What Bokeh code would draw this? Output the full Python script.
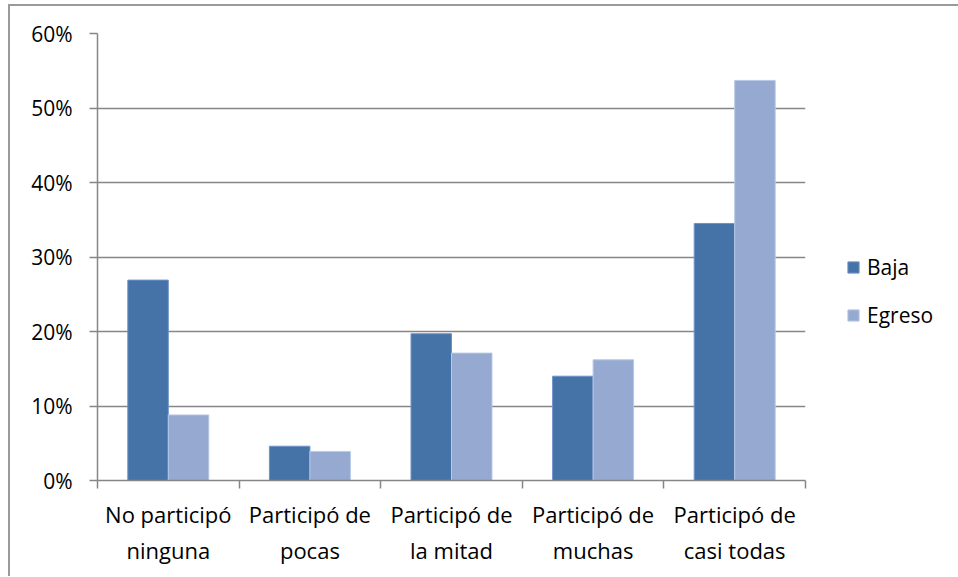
from bokeh.plotting import figure
from bokeh.models import ColumnDataSource, FixedTicker, Legend, LegendItem, NumeralTickFormatter
from bokeh.transform import dodge
from bokeh.embed import file_html
from bokeh.resources import INLINE

categories = ["No participó\nninguna", "Participó de\npocas", "Participó de\nla mitad",
              "Participó de\nmuchas", "Participó de\ncasi todas"]
baja = [0.269, 0.046, 0.197, 0.140, 0.345]
egreso = [0.088, 0.039, 0.171, 0.162, 0.537]
series = ["Baja", "Egreso"]
y_ticks = [0.0, 0.1, 0.2, 0.3, 0.4, 0.5, 0.6]

FONT = "Open Sans"
GRAY = "#868686"

pos = [i + 0.5 for i in range(len(categories))]
bounds = [float(i) for i in range(len(categories) + 1)]
src = ColumnDataSource(dict(x=pos, baja=baja, egreso=egreso))

p = figure(frame_width=708, frame_height=447, x_range=(0, len(categories)), y_range=(0, 0.6),
           output_backend="svg", toolbar_location=None,
           min_border_left=87, min_border_right=153, min_border_top=27, min_border_bottom=96)
p.styles = {"border-top": "2px solid #9a9a9a", "border-left": "2px solid #9a9a9a",
            "margin-left": "8px", "margin-top": "4px"}

bw = 0.286
r1 = p.vbar(x=dodge("x", -bw / 2), top="baja", width=bw, source=src,
            fill_color="#4572A7", line_color="#6f93c8", line_width=1)
r2 = p.vbar(x=dodge("x", bw / 2), top="egreso", width=bw, source=src,
            fill_color="#95A9D1", line_color="#b8c8e6", line_width=1)

p.outline_line_color = None
p.xgrid.visible = False
p.ygrid.ticker = FixedTicker(ticks=y_ticks)
p.ygrid.grid_line_color = GRAY
p.ygrid.grid_line_width = 1.3

xa = p.xaxis[0]
xa.ticker = FixedTicker(ticks=pos, minor_ticks=bounds)
xa.major_label_overrides = {x: c for x, c in zip(pos, categories)}
xa.major_tick_out = 0
xa.major_tick_in = 0
xa.minor_tick_out = 8
xa.minor_tick_in = 0
xa.minor_tick_line_color = GRAY
xa.minor_tick_line_width = 1.5
xa.axis_line_color = GRAY
xa.axis_line_width = 1.5
xa.major_label_text_font = FONT
xa.major_label_text_font_size = "22px"
xa.major_label_text_color = "black"
xa.major_label_standoff = 10

ya = p.yaxis[0]
ya.ticker = FixedTicker(ticks=y_ticks)
ya.formatter = NumeralTickFormatter(format="0%")
ya.major_tick_out = 8
ya.major_tick_in = 0
ya.minor_tick_line_color = None
ya.major_tick_line_color = GRAY
ya.major_tick_line_width = 1.5
ya.axis_line_color = GRAY
ya.axis_line_width = 1.5
ya.major_label_text_font = FONT
ya.major_label_text_font_size = "21px"
ya.major_label_text_color = "black"
ya.major_label_standoff = 17

legend = Legend(items=[LegendItem(label=series[0], renderers=[r1]),
                       LegendItem(label=series[1], renderers=[r2])],
                location=(41, 151), glyph_width=14, glyph_height=14, spacing=20,
                padding=10, margin=0, label_standoff=7, border_line_color=None,
                background_fill_alpha=0, label_text_font=FONT,
                label_text_font_size="21px", label_text_color="black")
p.add_layout(legend, "right")

open("out.html", "w").write(file_html(p, INLINE))
